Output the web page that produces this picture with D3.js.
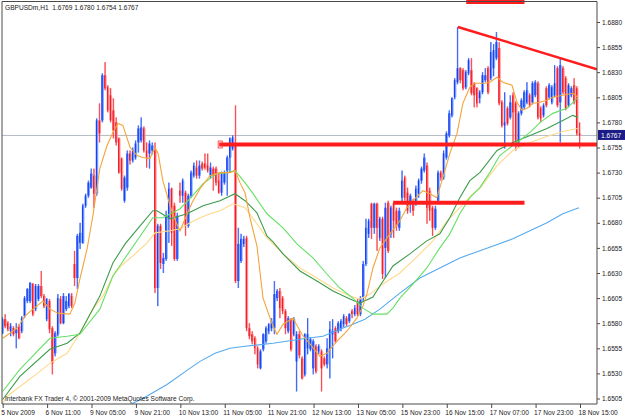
<!DOCTYPE html>
<html><head><meta charset="utf-8">
<script src="https://cdn.jsdelivr.net/npm/d3@7"></script>
<style>
body{margin:0;background:#fff;overflow:hidden;}
text{font-family:"Liberation Sans",Arial,sans-serif;}
</style>
</head><body>
<svg id="chart" width="625" height="417"></svg>
<script>
// ---------------- DATA ----------------
const chartTitle = "GBPUSDm,H1  1.6769 1.6780 1.6754 1.6767";
const copyrightText = "Interbank FX Trader 4, \u00A9 2001-2009 MetaQuotes Software Corp.";
const lastPrice = 1.6767;

const priceTicks = [1.6505,1.6530,1.6555,1.6580,1.6605,1.6630,1.6655,1.6680,1.6705,1.6730,1.6755,1.6780,1.6805,1.6830,1.6855,1.6880];
const timeTickBars = [0,16,32,48,64,80,96,112,128,144,160,176,192,208];
const timeLabels = ["5 Nov 2009","6 Nov 11:00","9 Nov 05:00","9 Nov 21:00","10 Nov 13:00","11 Nov 05:00","11 Nov 21:00","12 Nov 13:00","13 Nov 05:00","15 Nov 23:00","16 Nov 15:00","17 Nov 07:00","17 Nov 23:00","18 Nov 15:00"];

const barOpen = [1.6570,1.6584,1.6580,1.6572,1.6575,1.6570,1.6577,1.6572,1.6587,1.6602,1.6602,1.6619,1.6594,1.6604,1.6617,1.6607,1.6584,1.6602,1.6575,1.6550,
1.6569,1.6604,1.6580,1.6594,1.6597,1.6607,1.6639,1.6625,1.6660,1.6660,1.6697,1.6707,1.6715,1.6727,1.6709,1.6782,1.6782,1.6827,1.6815,1.6807,
1.6792,1.6780,1.6764,1.6744,1.6702,1.6715,1.6749,1.6742,1.6745,1.6760,1.6762,1.6774,1.6752,1.6749,1.6752,1.6752,1.6615,1.6677,1.6639,1.6644,
1.6684,1.6714,1.6697,1.6644,1.6712,1.6707,1.6710,1.6677,1.6707,1.6727,1.6735,1.6727,1.6739,1.6739,1.6737,1.6727,1.6734,1.6734,1.6722,1.6710,
1.6720,1.6732,1.6745,1.6754,1.6757,1.6622,1.6642,1.6659,1.6665,1.6575,1.6569,1.6565,1.6555,1.6535,1.6554,1.6562,1.6572,1.6575,1.6575,1.6605,
1.6612,1.6605,1.6592,1.6572,1.6584,1.6569,1.6542,1.6569,1.6545,1.6529,1.6555,1.6554,1.6535,1.6557,1.6552,1.6552,1.6545,1.6539,1.6555,1.6569,
1.6575,1.6572,1.6575,1.6579,1.6585,1.6582,1.6592,1.6589,1.6602,1.6589,1.6605,1.6639,1.6669,1.6699,1.6675,1.6699,1.6665,1.6684,1.6655,1.6700,
1.6669,1.6700,1.6692,1.6675,1.6705,1.6725,1.6710,1.6700,1.6702,1.6700,1.6709,1.6722,1.6732,1.6737,1.6712,1.6695,1.6675,1.6702,1.6730,1.6725,
1.6745,1.6767,1.6787,1.6805,1.6820,1.6834,1.6832,1.6815,1.6829,1.6832,1.6819,1.6814,1.6804,1.6810,1.6822,1.6834,1.6824,1.6834,1.6844,1.6854,
1.6800,1.6777,1.6794,1.6785,1.6807,1.6799,1.6760,1.6789,1.6795,1.6800,1.6807,1.6800,1.6807,1.6819,1.6794,1.6787,1.6814,1.6805,1.6800,1.6807,
1.6834,1.6800,1.6834,1.6824,1.6797,1.6807,1.6817,1.6814,1.6769];
const barHigh = [1.6586,1.6589,1.6582,1.6580,1.6577,1.6580,1.6579,1.6587,1.6607,1.6615,1.6621,1.6620,1.6619,1.6619,1.6632,1.6609,1.6605,1.6604,1.6577,1.6572,
1.6609,1.6607,1.6610,1.6607,1.6610,1.6610,1.6652,1.6669,1.6680,1.6699,1.6709,1.6722,1.6734,1.6734,1.6784,1.6799,1.6829,1.6840,1.6817,1.6814,
1.6804,1.6785,1.6765,1.6745,1.6727,1.6752,1.6752,1.6755,1.6762,1.6777,1.6785,1.6776,1.6760,1.6762,1.6760,1.6760,1.6679,1.6679,1.6650,1.6692,
1.6720,1.6715,1.6700,1.6690,1.6720,1.6724,1.6712,1.6709,1.6732,1.6740,1.6742,1.6742,1.6741,1.6749,1.6749,1.6740,1.6736,1.6736,1.6730,1.6731,
1.6732,1.6747,1.6765,1.6767,1.6797,1.6675,1.6669,1.6667,1.6667,1.6580,1.6572,1.6567,1.6557,1.6554,1.6570,1.6577,1.6580,1.6585,1.6622,1.6614,
1.6615,1.6607,1.6594,1.6587,1.6585,1.6586,1.6572,1.6572,1.6547,1.6570,1.6585,1.6566,1.6564,1.6559,1.6559,1.6554,1.6547,1.6565,1.6582,1.6584,
1.6577,1.6582,1.6584,1.6589,1.6587,1.6590,1.6594,1.6598,1.6604,1.6607,1.6642,1.6684,1.6684,1.6700,1.6700,1.6700,1.6686,1.6686,1.6700,1.6702,
1.6697,1.6702,1.6695,1.6695,1.6732,1.6727,1.6715,1.6709,1.6704,1.6717,1.6724,1.6736,1.6749,1.6740,1.6715,1.6697,1.6697,1.6732,1.6732,1.6752,
1.6771,1.6792,1.6805,1.6824,1.6875,1.6835,1.6834,1.6832,1.6844,1.6844,1.6820,1.6815,1.6812,1.6830,1.6834,1.6836,1.6860,1.6858,1.6870,1.6860,
1.6802,1.6810,1.6796,1.6807,1.6810,1.6801,1.6791,1.6804,1.6812,1.6820,1.6809,1.6821,1.6822,1.6821,1.6796,1.6799,1.6816,1.6819,1.6817,1.6837,
1.6836,1.6844,1.6836,1.6826,1.6819,1.6816,1.6824,1.6816,1.6780];
const barLow = [1.6569,1.6575,1.6572,1.6567,1.6567,1.6555,1.6564,1.6570,1.6585,1.6600,1.6600,1.6587,1.6592,1.6602,1.6605,1.6595,1.6582,1.6570,1.6529,1.6547,
1.6567,1.6579,1.6579,1.6592,1.6595,1.6595,1.6617,1.6614,1.6654,1.6659,1.6695,1.6705,1.6714,1.6695,1.6707,1.6760,1.6780,1.6812,1.6790,1.6780,
1.6764,1.6757,1.6729,1.6712,1.6700,1.6712,1.6738,1.6740,1.6743,1.6750,1.6760,1.6750,1.6735,1.6734,1.6748,1.6610,1.6597,1.6634,1.6630,1.6642,
1.6660,1.6657,1.6642,1.6642,1.6700,1.6700,1.6667,1.6675,1.6705,1.6725,1.6724,1.6724,1.6732,1.6733,1.6730,1.6724,1.6712,1.6717,1.6709,1.6707,
1.6718,1.6707,1.6730,1.6752,1.6620,1.6615,1.6640,1.6656,1.6572,1.6564,1.6559,1.6549,1.6535,1.6534,1.6552,1.6560,1.6569,1.6572,1.6569,1.6602,
1.6585,1.6589,1.6569,1.6570,1.6552,1.6567,1.6512,1.6545,1.6524,1.6527,1.6549,1.6552,1.6529,1.6530,1.6549,1.6512,1.6537,1.6535,1.6525,1.6545,
1.6560,1.6570,1.6572,1.6576,1.6577,1.6580,1.6585,1.6587,1.6587,1.6587,1.6602,1.6637,1.6665,1.6664,1.6669,1.6652,1.6662,1.6624,1.6625,1.6650,
1.6665,1.6665,1.6672,1.6672,1.6700,1.6702,1.6689,1.6690,1.6687,1.6697,1.6705,1.6719,1.6730,1.6679,1.6682,1.6667,1.6673,1.6700,1.6722,1.6723,
1.6743,1.6765,1.6785,1.6803,1.6818,1.6819,1.6812,1.6813,1.6827,1.6807,1.6795,1.6795,1.6799,1.6808,1.6820,1.6808,1.6822,1.6826,1.6842,1.6797,
1.6775,1.6754,1.6777,1.6783,1.6757,1.6752,1.6755,1.6787,1.6793,1.6798,1.6795,1.6798,1.6805,1.6783,1.6780,1.6785,1.6795,1.6803,1.6798,1.6805,
1.6795,1.6760,1.6808,1.6792,1.6795,1.6805,1.6798,1.6767,1.6754];
const barClose = [1.6584,1.6577,1.6574,1.6577,1.6569,1.6574,1.6565,1.6585,1.6605,1.6614,1.6620,1.6589,1.6617,1.6617,1.6607,1.6597,1.6604,1.6574,1.6540,1.6570,
1.6605,1.6580,1.6607,1.6602,1.6609,1.6597,1.6625,1.6667,1.6670,1.6697,1.6707,1.6720,1.6729,1.6709,1.6782,1.6769,1.6827,1.6814,1.6792,1.6782,
1.6772,1.6760,1.6730,1.6714,1.6725,1.6749,1.6742,1.6752,1.6759,1.6774,1.6775,1.6752,1.6745,1.6759,1.6757,1.6615,1.6677,1.6640,1.6645,1.6687,
1.6714,1.6670,1.6644,1.6687,1.6707,1.6722,1.6677,1.6707,1.6730,1.6737,1.6727,1.6737,1.6734,1.6735,1.6732,1.6735,1.6727,1.6720,1.6710,1.6729,
1.6730,1.6745,1.6764,1.6765,1.6622,1.6659,1.6664,1.6664,1.6575,1.6567,1.6562,1.6555,1.6539,1.6552,1.6569,1.6575,1.6579,1.6582,1.6609,1.6612,
1.6595,1.6592,1.6575,1.6585,1.6554,1.6584,1.6569,1.6548,1.6525,1.6569,1.6569,1.6564,1.6562,1.6532,1.6557,1.6535,1.6539,1.6555,1.6574,1.6572,
1.6562,1.6580,1.6582,1.6587,1.6579,1.6589,1.6589,1.6595,1.6589,1.6605,1.6639,1.6675,1.6682,1.6675,1.6699,1.6675,1.6684,1.6629,1.6695,1.6652,
1.6695,1.6682,1.6677,1.6692,1.6722,1.6705,1.6692,1.6707,1.6692,1.6714,1.6722,1.6734,1.6745,1.6695,1.6692,1.6675,1.6694,1.6730,1.6725,1.6749,
1.6769,1.6789,1.6804,1.6822,1.6834,1.6822,1.6814,1.6830,1.6842,1.6809,1.6807,1.6799,1.6810,1.6827,1.6827,1.6810,1.6850,1.6852,1.6860,1.6799,
1.6777,1.6780,1.6779,1.6800,1.6790,1.6762,1.6789,1.6802,1.6810,1.6812,1.6797,1.6819,1.6820,1.6785,1.6784,1.6797,1.6797,1.6817,1.6815,1.6819,
1.6797,1.6837,1.6810,1.6794,1.6817,1.6814,1.6800,1.6769,1.6767];

// indicator lines: [bar index, price]
const maFastOrange = [[0,1.6565],[5.2,1.6575],[8,1.6587],[10.9,1.6594],[14.5,1.6602],[17,1.6594],[19.9,1.6590],[24.2,1.6589],[26,1.6600],[27.8,1.6624],[30.4,1.6654],[32.5,1.6687],[35,1.6734],[37.6,1.6757],[39.7,1.6770],[41.5,1.6779],[43.3,1.6777],[45.9,1.6755],[48.4,1.6747],[50.5,1.6745],[53,1.6744],[54.9,1.6755],[56,1.6749],[57.7,1.6722],[60.3,1.6697],[62.5,1.6680],[63.9,1.6672],[65.7,1.6684],[68.2,1.6700],[71.1,1.6714],[74.7,1.6727],[78.3,1.6730],[81.9,1.6730],[83.7,1.6732],[85.5,1.6720],[87.3,1.6710],[89.1,1.6685],[91.6,1.6657],[93.8,1.6605],[97,1.6580],[98.8,1.6569],[101,1.6579],[104.6,1.6585],[107.8,1.6569],[111.4,1.6557],[114.3,1.6547],[116.8,1.6550],[120.4,1.6562],[124,1.6572],[127.6,1.6585],[129.8,1.6597],[131.2,1.6609],[133.4,1.6635],[135.9,1.6655],[139.5,1.6669],[143.1,1.6682],[145.6,1.6695],[147.8,1.6702],[151.4,1.6712],[153.9,1.6709],[156.4,1.6705],[158.6,1.6725],[161.1,1.6749],[163.7,1.6769],[165.8,1.6799],[168.3,1.6815],[170.1,1.6819],[173.7,1.6819],[175.5,1.6820],[178.1,1.6825],[180.2,1.6820],[183.5,1.6817],[185.3,1.6800],[187.1,1.6792],[188.9,1.6794],[191,1.6799],[193.6,1.6800],[196.1,1.6802],[198.2,1.6805],[201.8,1.6807],[205.4,1.6809],[207.2,1.6805]];
const maSlowYellow = [[0,1.6500],[1.5,1.6507],[13.4,1.6532],[17,1.6540],[23.2,1.6550],[27.8,1.6570],[32.5,1.6594],[36.1,1.6607],[39.7,1.6627],[43,1.6638],[46.9,1.6647],[52,1.6660],[54.9,1.6670],[60.3,1.6672],[63.9,1.6674],[67.5,1.6680],[71.1,1.6685],[74.7,1.6689],[78.3,1.6692],[83,1.6699],[87.3,1.6695],[91.6,1.6679],[95.2,1.6665],[101,1.6649],[107.1,1.6635],[113.2,1.6625],[119,1.6615],[125.1,1.6607],[128.7,1.6604],[132.3,1.6609],[137,1.6619],[143.1,1.6630],[150.3,1.6649],[155,1.6662],[160.1,1.6682],[164.7,1.6695],[169.4,1.6709],[171.9,1.6714],[178.1,1.6737],[183.8,1.6752],[190,1.6760],[196.1,1.6766],[201.8,1.6771],[207.2,1.6774]];
const maDarkGreen = [[0,1.6504],[6.2,1.6527],[17,1.6554],[23.2,1.6560],[27.8,1.6570],[35,1.6607],[39.7,1.6640],[44.1,1.6659],[49.5,1.6677],[54.1,1.6692],[55.6,1.6692],[60.3,1.6684],[66.4,1.6689],[72.2,1.6697],[78.3,1.6702],[83.7,1.6709],[87.3,1.6702],[89.1,1.6697],[91.6,1.6690],[95.2,1.6667],[97.4,1.6661],[101,1.6649],[107.1,1.6632],[113.2,1.6622],[119,1.6612],[125.1,1.6604],[128.7,1.6600],[133.4,1.6606],[135.9,1.6617],[140.6,1.6637],[146.7,1.6649],[152.8,1.6662],[157.5,1.6669],[161.1,1.6685],[164.7,1.6705],[168.3,1.6722],[171.9,1.6730],[178.1,1.6752],[183.8,1.6760],[190,1.6767],[196.1,1.6774],[201.8,1.6782],[205.4,1.6787],[207.2,1.6785]];
const maLightGreen = [[0,1.6512],[6.2,1.6534],[17,1.6565],[23.2,1.6567],[27.8,1.6569],[35,1.6594],[39.7,1.6627],[44.1,1.6645],[54.1,1.6685],[57.7,1.6685],[63.9,1.6694],[67.5,1.6704],[72.2,1.6719],[77.2,1.6729],[80.8,1.6730],[83.7,1.6732],[87.3,1.6720],[90.2,1.6709],[95.2,1.6689],[101,1.6675],[106,1.6659],[111.8,1.6645],[116.8,1.6629],[121.5,1.6615],[126.2,1.6605],[129.8,1.6595],[133.4,1.6589],[138.4,1.6589],[140.6,1.6595],[143.1,1.6605],[147.8,1.6619],[152.8,1.6635],[157.5,1.6655],[161.1,1.6669],[164.7,1.6689],[168.3,1.6705],[171.9,1.6715],[175.5,1.6730],[179.1,1.6747],[183.8,1.6757],[190,1.6770],[193.6,1.6780],[198.2,1.6789],[203.3,1.6794],[206.9,1.6804]];
const maLightBlue = [[45.1,1.6498],[50.5,1.6505],[59.2,1.6519],[66.4,1.6533],[71.1,1.6542],[76.5,1.6550],[81.9,1.6555],[87.3,1.6557],[97.4,1.6560],[109.6,1.6565],[115.4,1.6567],[121.5,1.6574],[126.2,1.6579],[130.5,1.6584],[135.9,1.6594],[143.1,1.6610],[150.3,1.6625],[157.5,1.6635],[164.7,1.6645],[173.7,1.6654],[183.8,1.6664],[196.1,1.6680],[201.8,1.6689],[207.6,1.6695]];

// drawn objects (bar index, price)
const levelLines = [
  {from:78, to:null, price:1.6758},
  {from:141, to:188, price:1.6700},
  {from:167, to:188, price:1.6900}
];
const trendPoints = [[164,1.6875],[201,1.6844]];

// ---------------- DRAW ----------------
const svg = d3.select("#chart");
const frame = {left:2, right:597, top:1.5, bottom:404};
const x = d3.scaleLinear().domain([0,208]).range([2.7,580]);
const y = d3.scaleLinear().domain([1.6505,1.6880]).range([398.5,22]);

svg.append("rect").attr("width",625).attr("height",417).attr("fill","#fff");
svg.append("defs").append("clipPath").attr("id","pc").append("rect")
  .attr("x",frame.left).attr("y",frame.top-1.5).attr("width",frame.right-frame.left).attr("height",frame.bottom-frame.top+1.5);
const g = svg.append("g").attr("clip-path","url(#pc)");

// bid line
g.append("line").attr("x1",frame.left).attr("x2",frame.right)
  .attr("y1",y(lastPrice)).attr("y2",y(lastPrice))
  .attr("stroke","#b3bac2").attr("stroke-width",1);

// moving averages
const line = d3.line().x(d=>x(d[0])).y(d=>y(d[1]));
const maSpecs = [
  [maLightBlue,"#55aaf0"],
  [maSlowYellow,"#ffd98a"],
  [maDarkGreen,"#3d9c4c"],
  [maLightGreen,"#66e066"],
  [maFastOrange,"#f4a43a"]
];

// candles
const bars = barOpen.map((o,i)=>({i,o,h:barHigh[i],l:barLow[i],c:barClose[i]}));
const cg = g.append("g");
bars.forEach(b=>{
  const up = b.c >= b.o;
  const solid = up ? "#1f3ef5" : "#f51f2a";
  const light = up ? "#6ea8ff" : "#ff8f8f";
  const cx = x(b.i);
  cg.append("line").attr("x1",cx).attr("x2",cx).attr("y1",y(b.h)).attr("y2",y(b.l))
    .attr("stroke",light).attr("stroke-width",1);
  const top = y(Math.max(b.o,b.c)), bot = y(Math.min(b.o,b.c));
  const hgt = Math.max(1, bot-top);
  cg.append("rect").attr("x",cx-1.3).attr("y",top).attr("width",1.45).attr("height",hgt).attr("fill",solid);
  cg.append("rect").attr("x",cx+0.15).attr("y",top).attr("width",1.05).attr("height",hgt).attr("fill",light);
  cg.append("line").attr("x1",cx-0.5).attr("x2",cx-0.5).attr("y1",y(b.h)).attr("y2",y(b.l))
    .attr("stroke",solid).attr("stroke-width",0.8);
});

maSpecs.forEach(([data,col])=>{
  g.append("path").attr("d",line(data)).attr("fill","none").attr("stroke",col).attr("stroke-width",1.1);
});

// level lines
levelLines.forEach(L=>{
  const x1 = x(L.from), x2 = L.to===null ? frame.right : x(L.to);
  g.append("line").attr("x1",x1).attr("x2",x2).attr("y1",y(L.price)).attr("y2",y(L.price))
    .attr("stroke","#ff1c1c").attr("stroke-width",4);
});
// small marker at start of first level line
g.append("rect").attr("x",x(levelLines[0].from)-1).attr("y",y(levelLines[0].price)-3.5)
  .attr("width",4).attr("height",7).attr("fill","none").attr("stroke","#ff3030").attr("stroke-width",0.8);

// trend line (ray)
{
  const [p0,p1] = trendPoints;
  const slope = (p1[1]-p0[1])/(p1[0]-p0[0]);
  const endBar = x.invert(frame.right);
  g.append("line").attr("x1",x(p0[0])).attr("y1",y(p0[1]))
    .attr("x2",x(endBar)).attr("y2",y(p0[1]+slope*(endBar-p0[0])))
    .attr("stroke","#ff1c1c").attr("stroke-width",2.5);
}

// frame
const fc = "#4a4a4a";
svg.append("line").attr("x1",frame.left).attr("x2",frame.right).attr("y1",frame.top).attr("y2",frame.top).attr("stroke",fc);
svg.append("line").attr("x1",frame.left).attr("x2",frame.right).attr("y1",frame.bottom).attr("y2",frame.bottom).attr("stroke",fc);
svg.append("line").attr("x1",frame.left).attr("x2",frame.left).attr("y1",frame.top).attr("y2",frame.bottom).attr("stroke",fc);
svg.append("line").attr("x1",frame.right).attr("x2",frame.right).attr("y1",frame.top).attr("y2",frame.bottom).attr("stroke",fc);

// axes
const yAxis = d3.axisRight(y).tickValues(priceTicks).tickSize(3).tickPadding(2).tickFormat(d3.format(".4f"));
const ya = svg.append("g").attr("transform",`translate(${frame.right},0)`).call(yAxis);
ya.select(".domain").remove();
ya.selectAll("line").attr("stroke",fc);
ya.selectAll("text").attr("font-size","6.6px").attr("fill","#1a1a1a").attr("font-family","Liberation Sans, Arial, sans-serif");

const xAxis = d3.axisBottom(x).tickValues(timeTickBars).tickSize(4).tickFormat((d,i)=>timeLabels[i]);
const xa = svg.append("g").attr("transform",`translate(0,${frame.bottom})`).call(xAxis);
xa.select(".domain").remove();
xa.selectAll("line").attr("stroke",fc);
xa.selectAll("text").attr("text-anchor","start").attr("dx","-2").attr("dy","0.55em")
  .attr("font-size","6.6px").attr("fill","#1a1a1a").attr("font-family","Liberation Sans, Arial, sans-serif");

// last price box
svg.append("rect").attr("x",frame.right+1).attr("y",y(lastPrice)-5.5).attr("width",27).attr("height",10).attr("fill","#1c1c86");
svg.append("text").attr("x",frame.right+4).attr("y",y(lastPrice)+2.5).text(d3.format(".4f")(lastPrice))
  .attr("font-size","6.6px").attr("fill","#fff");

// title and copyright
svg.append("text").attr("x",5).attr("y",10).text(chartTitle).attr("font-size","6.6px").attr("fill","#1a1a1a").attr("xml:space","preserve").style("white-space","pre");
svg.append("text").attr("x",5).attr("y",401).text(copyrightText).attr("font-size","6.6px").attr("fill","#1a1a1a");
</script>
</body></html>
